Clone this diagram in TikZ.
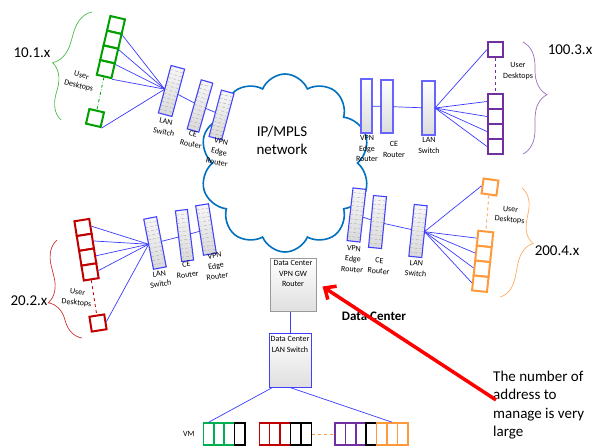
\documentclass[tikz,border=0pt]{standalone}
\usepackage{fontspec}
\setmainfont{Carlito}
\usepackage{xcolor}
\usepackage{tikz}
\usetikzlibrary{positioning, arrows.meta, calc, shapes.symbols, decorations.pathreplacing}
\definecolor{cloudblue}{HTML}{0070C0}
\definecolor{rackblue}{HTML}{4040FF}
\definecolor{linkblue}{HTML}{3C3CFF}
\definecolor{deskgreen}{HTML}{00A000}
\definecolor{deskpurple}{HTML}{7030A0}
\definecolor{deskred}{HTML}{C00000}
\definecolor{deskorange}{HTML}{FF9A3C}
\definecolor{vmgreen}{HTML}{00B050}
\definecolor{arrowred}{HTML}{FF0000}

\tikzset{
  rack/.style={draw=rackblue, line width=1.1pt, inner sep=0pt, outer sep=0pt,
    minimum width=13pt, minimum height=51pt, top color=gray!6, bottom color=gray!30},
  plainrack/.style={rack, draw=rackblue!80, top color=white, bottom color=gray!28},
  rung/.style={gray!75, densely dashed, line width=0.3pt},
  desk/.style={line width=2pt, fill=white, inner sep=0pt, minimum size=15pt},
  vm/.style={line width=1.5pt, fill=white, inner sep=0pt, minimum width=10.4pt, minimum height=22pt},
  link/.style={linkblue, line width=0.7pt},
  small/.style={font=\fontsize{8}{10.5}\selectfont, align=center, inner sep=0pt},
  addr/.style={font=\fontsize{15}{18}\selectfont, inner sep=0pt},
  note/.style={font=\fontsize{15}{18.5}\selectfont, align=left, inner sep=0pt},
  dcbox/.style={line width=1pt, inner sep=0pt, top color=white, bottom color=gray!25},
  curly/.style 2 args={decorate, line width=0.7pt, decoration={brace, amplitude=#1, aspect=#2}},
}
\newcommand\rungs[1]{%
  \foreach \k in {1,...,11}
    \draw[rung] ($(#1.south west)!\k/12!(#1.north west)$) -- ($(#1.south east)!\k/12!(#1.north east)$);}

\begin{document}
\begin{tikzpicture}[x=1pt, y=-1pt]
  \useasboundingbox[fill=white] (0,0) rectangle (593,447);

  \node[cloud, cloud puffs=10, cloud puff arc=135, draw=cloudblue, line width=1.6pt, minimum width=170pt,
        minimum height=178pt, cloud ignores aspect] (net) at (285,163) {};
  \node[font=\fontsize{15}{18}\selectfont, align=center, inner sep=0pt] (netlbl) at (282,140) {IP/MPLS\\network};

  % 10.1.x
  \foreach \i in {0,...,3}
    \node[desk, draw=deskgreen, rotate=-13] (g\i) at ({116-3.4*\i},{25+14.7*\i}) {};
  \node[desk, draw=deskgreen, rotate=-13] (g4) at (95,118) {};
  \draw[deskgreen, dash dot, line width=0.8pt] (g3.south) -- (g4.north);
  \node[small, rotate=-15] (glbl) at (80,81) {User\\Desktops};
  \draw[curly={24pt}{0.47}, deskgreen!70] (61,120) -- (92,12);
  \node[addr] (gaddr) at (32,53) {10.1.x};
  \node[rack, rotate=-15, minimum width=14pt, minimum height=49pt] (tlsw) at (171.5,91) {};
  \node[rack, rotate=-16, minimum width=12pt, minimum height=51pt] (tlce) at (200,106) {};
  \node[rack, rotate=-15, minimum width=13pt, minimum height=48pt] (tlvpn) at (221.5,115) {};
  \rungs{tlsw} \rungs{tlce} \rungs{tlvpn}
  \foreach \i in {0,...,4}
    \draw[link] (g\i.south east) -- (tlsw.west);
  \draw[link] (tlsw) -- (tlce);
  \draw[link] (tlce) -- (tlvpn);
  \node[small, rotate=-12] (tlswlbl) at (165,127) {LAN\\Switch};
  \node[small, rotate=-12] (tlcelbl) at (192,139) {CE\\Router};
  \node[small, rotate=-12] (tlvpnlbl) at (219,152) {VPN\\Edge\\Router};

  % 100.3.x
  \foreach \i in {0,...,3}
    \node[desk, draw=deskpurple] (p\i) at (495.5,{101.5+15*\i}) {};
  \node[desk, draw=deskpurple] (p4) at (495.5,49.5) {};
  \draw[deskpurple, dashed, line width=0.8pt] (p4.south) -- (p0.north);
  \node[small] (plbl) at (518,71) {User\\Desktops};
  \draw[curly={24pt}{0.47}, deskpurple!70] (523,42) -- (523,154);
  \node[addr] (paddr) at (570,50) {100.3.x};
  \node[plainrack, minimum width=11pt, minimum height=54pt] (trvpn) at (366.5,106) {};
  \node[plainrack, minimum width=12pt, minimum height=53pt] (trce) at (387,106.5) {};
  \node[plainrack, minimum width=13pt, minimum height=54pt] (trsw) at (428.5,108) {};
  \foreach \i in {0,...,4}
    \draw[link] (trsw.east) -- (p\i.west);
  \draw[link] (trvpn) -- (trce);
  \draw[link] (trce) -- (trsw);
  \node[small] (trvpnlbl) at (367,148.5) {VPN\\Edge\\Router};
  \node[small] (trcelbl) at (394,149.5) {CE\\Router};
  \node[small] (trswlbl) at (429,145.5) {LAN\\Switch};

  % 20.2.x
  \foreach \i in {0,...,3}
    \node[desk, draw=deskred, rotate=9] (r\i) at ({83+2.35*\i},{227.5+14.8*\i}) {};
  \node[desk, draw=deskred, rotate=9] (r4) at (98,323) {};
  \draw[deskred, dashed, line width=0.8pt] (r3.south) -- (r4.north);
  \node[small, rotate=-6] (rlbl) at (77,298) {User\\Desktops};
  \draw[curly={24pt}{0.42}, deskred!80] (82,338) -- (57,240);
  \node[addr] (raddr) at (29,301) {20.2.x};
  \node[rack, rotate=11, minimum width=13pt, minimum height=51pt] (blsw) at (155,243) {};
  \node[rack, rotate=7, minimum width=12pt, minimum height=51pt] (blce) at (184.5,235.5) {};
  \node[rack, rotate=9, minimum width=13pt, minimum height=50pt] (blvpn) at (206,229.5) {};
  \rungs{blsw} \rungs{blce} \rungs{blvpn}
  \foreach \i in {0,...,4}
    \draw[link] (r\i.east) -- (blsw.west);
  \draw[link] (blsw) -- (blce);
  \draw[link] (blce) -- (blvpn);
  \node[small, rotate=8] (blswlbl) at (160,279) {LAN\\Switch};
  \node[small, rotate=8] (blcelbl) at (187,269.5) {CE\\Router};
  \node[small, rotate=8] (blvpnlbl) at (216,266) {VPN\\Edge\\Router};

  % 200.4.x
  \foreach \i in {0,...,3}
    \node[desk, draw=deskorange, rotate=-6] (o\i) at ({485-1.57*\i},{239+14.9*\i}) {};
  \node[desk, draw=deskorange, rotate=-8] (o4) at (490,187) {};
  \draw[deskorange, dashed, line width=0.8pt] (o4.south) -- (o0.north);
  \node[small, rotate=-5] (olbl) at (510,215) {User\\Desktops};
  \draw[curly={22pt}{0.47}, deskorange!80] (522,188) -- (500,297);
  \node[addr] (oaddr) at (557,251) {200.4.x};
  \node[rack, rotate=-6.5, minimum width=13pt, minimum height=53pt] (brvpn) at (356.5,215) {};
  \node[rack, rotate=-5.5, minimum width=13pt, minimum height=52pt] (brce) at (377.5,222) {};
  \node[rack, rotate=-6, minimum width=13pt, minimum height=52pt] (brsw) at (418,231) {};
  \rungs{brvpn} \rungs{brce} \rungs{brsw}
  \foreach \i in {0,...,4}
    \draw[link] (brsw.east) -- (o\i.west);
  \draw[link] (brvpn) -- (brce);
  \draw[link] (brce) -- (brsw);
  \node[small, rotate=-5] (brvpnlbl) at (353,259) {VPN\\Edge\\Router};
  \node[small, rotate=-5] (brcelbl) at (379,266) {CE\\Router};
  \node[small, rotate=-5] (brswlbl) at (416,268.5) {LAN\\Switch};

  % data center
  \node[dcbox, draw=gray!80, minimum width=46pt, minimum height=53pt] (dcgw) at (293,284.5) {};
  \node[small, below=3pt of dcgw.north] (dcgwtxt) {Data Center\\VPN GW\\Router};
  \node[dcbox, draw=rackblue, minimum width=42pt, minimum height=54pt] (dclan) at (290,360) {};
  \node[small, below=4pt of dclan.north] (dclantxt) {Data Center\\LAN Switch};
  \draw[link] (dclan.north) -- (dclan.north |- dcgw.south);
  \foreach \c [count=\i from 0] in {vmgreen,vmgreen,vmgreen,black}
    \node[vm, draw=\c] (vmg\i) at ({208.6+10.4*\i},434) {};
  \foreach \c [count=\i from 0] in {deskred,deskred,deskred,black,black}
    \node[vm, draw=\c] (vmr\i) at ({264.5+10.4*\i},434) {};
  \foreach \c [count=\i from 0] in {deskpurple,deskpurple,deskpurple,black,deskorange,deskorange,deskorange}
    \node[vm, draw=\c] (vmp\i) at ({340.2+10.4*\i},434) {};
  \draw[deskorange, dashed, line width=0.8pt] (vmr4.east) -- (vmp0.west);
  \draw[link] ([xshift=4pt]dclan.south west) -- (vmg0.north);
  \draw[link] (dclan.south) -- (vmp5.north);
  \node[small, left=8pt of vmg0] (vmlbl) {VM};
  \node[font=\fontsize{13}{15}\selectfont\bfseries, inner sep=0pt] (dclbl) at (374,316) {Data Center};

  \node[note, anchor=north west] (note) at (493,370.5) {The number of\\address to\\manage is very\\large};
  \draw[arrowred, line width=3.5pt, -{Straight Barb[length=9pt, width=16pt]}]
    ([shift={(3pt,5pt)}]note.west) -- ([shift={(6pt,-2pt)}]dcgw.east);
\end{tikzpicture}
\end{document}
